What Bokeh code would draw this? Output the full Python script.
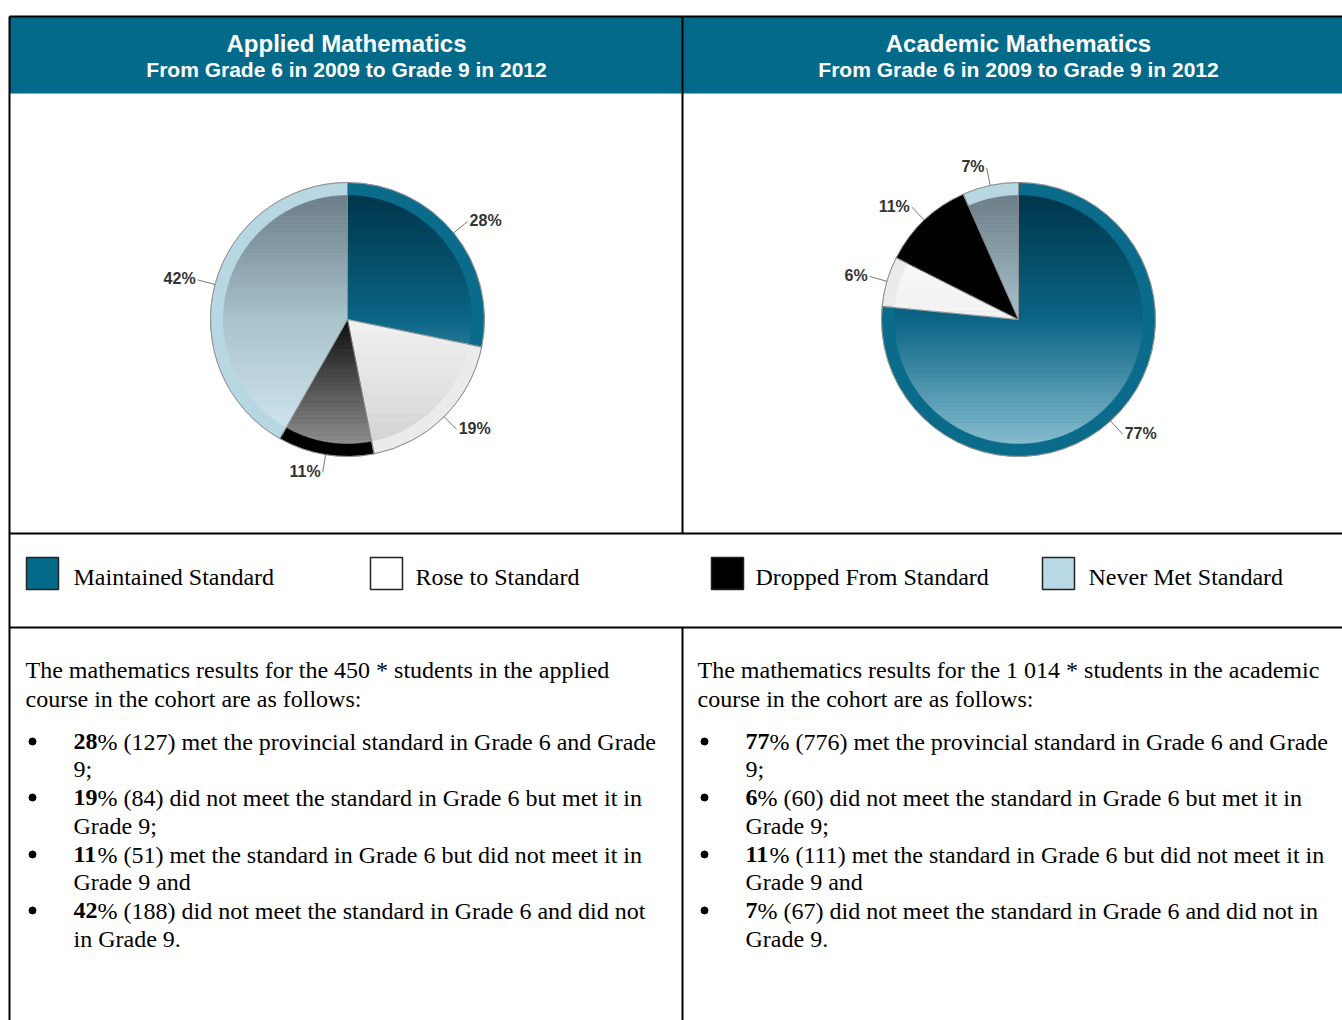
import numpy as np
from bokeh.plotting import figure
from bokeh.embed import file_html
from bokeh.resources import INLINE
from bokeh.core.properties import value

W, H = 1342, 1020

# ---------------- data ----------------
categories = ["Maintained Standard", "Rose to Standard", "Dropped From Standard", "Never Met Standard"]
applied_counts = [127, 84, 51, 188]
applied_pct = [28, 19, 11, 42]
academic_counts = [776, 60, 111, 67]
academic_pct = [77, 6, 11, 7]
titles = ["Applied Mathematics", "Academic Mathematics"]
subtitle = "From Grade 6 in 2009 to Grade 9 in 2012"

applied_intro = ["The mathematics results for the 450 * students in the applied",
                 "course in the cohort are as follows:"]
applied_items = [
    ["% (127) met the provincial standard in Grade 6 and Grade", "9;"],
    ["% (84) did not meet the standard in Grade 6 but met it in", "Grade 9;"],
    ["% (51) met the standard in Grade 6 but did not meet it in", "Grade 9 and"],
    ["% (188) did not meet the standard in Grade 6 and did not", "in Grade 9."],
]
academic_intro = ["The mathematics results for the 1 014 * students in the academic",
                  "course in the cohort are as follows:"]
academic_items = [
    ["% (776) met the provincial standard in Grade 6 and Grade", "9;"],
    ["% (60) did not meet the standard in Grade 6 but met it in", "Grade 9;"],
    ["% (111) met the standard in Grade 6 but did not meet it in", "Grade 9 and"],
    ["% (67) did not meet the standard in Grade 6 and did not in", "Grade 9."],
]

# ---------------- styles ----------------
HEADER = "#036a8a"
ring_colors = ["#0b6b8b", "#ebebeb", "#000000", "#b7d7e3"]
legend_colors = ["#036a8a", "#ffffff", "#000000", "#b9d9e4"]
grad_stops = [
    [(0.0, "#00364b"), (0.5, "#0b6585"), (1.0, "#86bccf")],
    [(0.0, "#fdfdfd"), (0.5, "#f2f2f2"), (1.0, "#d4d4d4")],
    [(0.0, "#000000"), (0.45, "#000000"), (1.0, "#8e8e8e")],
    [(0.0, "#6c7e87"), (0.5, "#a9c2cc"), (1.0, "#d4e8f0")],
]
SERIF = value("Liberation Serif")
SANS = value("Liberation Sans")
FS = "24px"


def Y(sy):
    return H - sy


def hex2rgb(h):
    h = h.lstrip("#")
    return np.array([int(h[i:i + 2], 16) for i in (0, 2, 4)], float)


def grad_color(stops, t):
    for (t0, c0), (t1, c1) in zip(stops[:-1], stops[1:]):
        if t <= t1:
            f = 0 if t1 == t0 else (t - t0) / (t1 - t0)
            c = hex2rgb(c0) * (1 - f) + hex2rgb(c1) * f
            return "#%02x%02x%02x" % tuple(int(round(v)) for v in c)
    return stops[-1][1]


def clip_half(pts, inside, yc):
    out = []
    n = len(pts)
    for i in range(n):
        cur = pts[i]
        prev = pts[i - 1]
        ci, pi_ = inside(cur), inside(prev)
        if ci:
            if not pi_:
                t = (yc - prev[1]) / (cur[1] - prev[1])
                out.append((prev[0] + t * (cur[0] - prev[0]), yc))
            out.append(cur)
        elif pi_:
            t = (yc - prev[1]) / (cur[1] - prev[1])
            out.append((prev[0] + t * (cur[0] - prev[0]), yc))
    return out


def clip_band(poly, ylo, yhi):
    p1 = clip_half(poly, lambda q: q[1] >= ylo, ylo)
    if not p1:
        return []
    return clip_half(p1, lambda q: q[1] <= yhi, yhi)


p = figure(width=W, height=H, x_range=(0, W), y_range=(0, H),
           output_backend="svg", toolbar_location=None,
           x_axis_location=None, y_axis_location=None, min_border=0)
p.outline_line_color = None
p.grid.visible = False
p.background_fill_color = "white"
p.border_fill_color = "white"

# ---------------- header ----------------
p.quad(left=[9], right=[W], top=[Y(16)], bottom=[Y(93)], fill_color=HEADER, line_color=None)
for cxh, t in zip([346, 1018], titles):
    p.text(x=[cxh], y=[Y(43)], text=[t], text_font=SANS, text_font_style="bold",
           text_font_size="24px", text_color="white", text_align="center", text_baseline="middle")
    p.text(x=[cxh], y=[Y(69)], text=[subtitle], text_font=SANS, text_font_style="bold",
           text_font_size="21px", text_color="white", text_align="center", text_baseline="middle")

# ---------------- borders ----------------
p.segment(x0=[9, 9, 9, 682, 682, 9], y0=[Y(16), Y(533), Y(627), Y(16), Y(627), Y(16)],
          x1=[W, W, W, 682, 682, 9], y1=[Y(16), Y(533), Y(627), Y(533), Y(1020), Y(1020)],
          line_color="black", line_width=2)


# ---------------- pies ----------------
def draw_pie(cx, cy_s, counts, pct):
    cy = Y(cy_s)
    R, Ri = 137.0, 124.0
    counts = np.array(counts, float)
    frac = counts / counts.sum()
    cum = np.concatenate([[0], np.cumsum(frac)])
    a0 = np.pi / 2 - 2 * np.pi * cum[:-1]
    a1 = np.pi / 2 - 2 * np.pi * cum[1:]
    p.wedge(x=cx, y=cy, radius=R, start_angle=list(a0), end_angle=list(a1), direction="clock",
            fill_color=ring_colors, line_color="#9a9a9a", line_width=1)
    nb = 60
    edges = np.linspace(cy + Ri, cy - Ri, nb + 1)
    xs, ys, cols = [], [], []
    for k in range(len(counts)):
        angs = np.linspace(a0[k], a1[k], max(8, int(abs(a1[k] - a0[k]) * 60)))
        poly = [(cx, cy)] + [(cx + Ri * np.cos(a), cy + Ri * np.sin(a)) for a in angs]
        for b in range(nb):
            yhi, ylo = edges[b], edges[b + 1]
            band = clip_band(poly, ylo, yhi)
            if len(band) < 3:
                continue
            xs.append([q[0] for q in band])
            ys.append([q[1] for q in band])
            cols.append(grad_color(grad_stops[k], (b + 0.5) / nb))
    p.patches(xs=xs, ys=ys, fill_color=cols, line_color=cols, line_width=0.6)
    p.wedge(x=cx, y=cy, radius=R, start_angle=list(a0), end_angle=list(a1), direction="clock",
            fill_color=None, line_color="#8a8a8a", line_width=0.8, line_alpha=0.7)
    # leaders and labels
    mid = (a0 + a1) / 2
    for k in range(len(counts)):
        c, s = np.cos(mid[k]), np.sin(mid[k])
        x1, y1 = cx + R * c, cy + R * s
        x2, y2 = cx + (R + 18) * c, cy + (R + 18) * s
        p.line(x=[x1, x2], y=[y1, y2], line_color="#777777", line_width=1)
        if c >= 0:
            p.text(x=[x2 + 2], y=[y2 + 1], text=["%d%%" % pct[k]], text_font=SANS,
                   text_font_style="bold", text_font_size="16px", text_color="#333333",
                   text_align="left", text_baseline="middle")
        else:
            p.text(x=[x2 - 2], y=[y2 + 1], text=["%d%%" % pct[k]], text_font=SANS,
                   text_font_style="bold", text_font_size="16px", text_color="#333333",
                   text_align="right", text_baseline="middle")


draw_pie(347, 319, applied_counts, applied_pct)
draw_pie(1018, 319, academic_counts, academic_pct)

# ---------------- legend ----------------
sq_x = [42, 386, 727, 1058]
txt_x = [73, 415, 755, 1088]
p.rect(x=sq_x, y=[Y(573)] * 4, width=32, height=32, fill_color=legend_colors,
       line_color="#222222", line_width=1.5)
p.text(x=txt_x, y=[Y(576)] * 4, text=categories, text_font=SERIF, text_font_size=FS,
       text_color="black", text_align="left", text_baseline="middle")


# ---------------- text blocks ----------------
def text_block(x0, intro, items, pct):
    p.text(x=[x0, x0], y=[Y(669), Y(698)], text=intro, text_font=SERIF, text_font_size=FS,
           text_color="black", text_align="left", text_baseline="middle")
    item_y = [(741, 768), (797, 825), (854, 881), (910, 938)]
    bx, tx = x0 + 7, x0 + 48
    p.scatter(x=[bx] * 4, y=[Y(a) for a, _ in item_y], marker="circle", size=7,
              fill_color="black", line_color="black")
    for (ya, yb), lines, pc in zip(item_y, items, pct):
        s = str(pc)
        p.text(x=[tx], y=[Y(ya)], text=[s], text_font=SERIF, text_font_style="bold",
               text_font_size=FS, text_color="black", text_align="left", text_baseline="middle")
        p.text(x=[tx + 12 * len(s)], y=[Y(ya)], text=[lines[0]], text_font=SERIF, text_font_size=FS,
               text_color="black", text_align="left", text_baseline="middle")
        p.text(x=[tx], y=[Y(yb)], text=[lines[1]], text_font=SERIF, text_font_size=FS,
               text_color="black", text_align="left", text_baseline="middle")


text_block(25, applied_intro, applied_items, applied_pct)
text_block(697, academic_intro, academic_items, academic_pct)

open("out.html", "w").write(file_html(p, INLINE))
